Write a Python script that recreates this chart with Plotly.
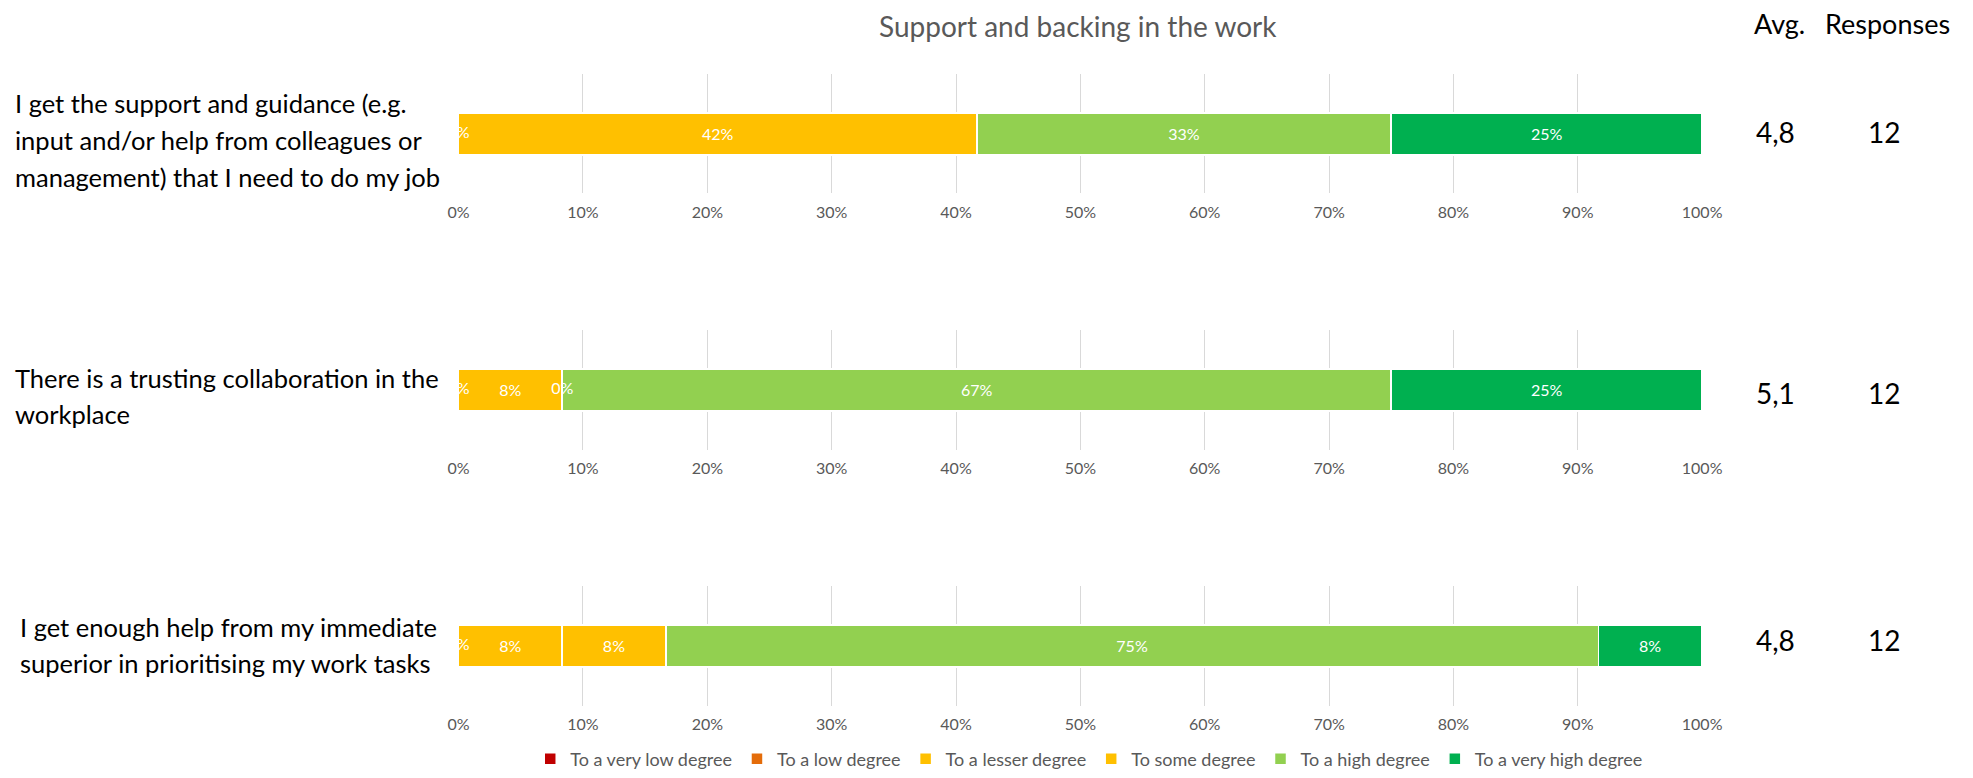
import plotly.graph_objects as go

# ---------------- data ----------------
chart_title = "Support and backing in the work"
questions = [
    "I get the support and guidance (e.g.<br>input and/or help from colleagues or<br>management) that I need to do my job",
    "There is a trusting collaboration in the<br>workplace",
    "I get enough help from my immediate<br>superior in prioritising my work tasks",
]
categories = ["To a very low degree", "To a low degree", "To a lesser degree",
              "To some degree", "To a high degree", "To a very high degree"]
colors = ["#C00000", "#E46C0A", "#FFC000", "#FFC000", "#92D050", "#00B050"]

# percent share per category
q1_values = [0, 0, 0, 41.67, 33.33, 25.0]
q2_values = [0, 0, 8.33, 0, 66.67, 25.0]
q3_values = [0, 0, 8.33, 8.33, 75.0, 8.33]
all_values = [q1_values, q2_values, q3_values]

averages = ["4,8", "5,1", "4,8"]
responses = ["12", "12", "12"]
x_tick_vals = [0, 10, 20, 30, 40, 50, 60, 70, 80, 90, 100]
x_tick_text = [f"{v}%" for v in x_tick_vals]

# ---------------- layout geometry ----------------
W, H = 1973, 778
FONT = "Lato"
x_dom = [455 / W, 1719 / W]
areas_px = [(75, 195), (333, 453), (591, 711)]   # plot areas (top, bottom) in px
label_y_px = [141, 399, 650]                     # centre of each question label
label_x_px = [3, 3, 8]
line_pitch = 37
value_y_px = [133, 396, 645]

fig = go.Figure()

for i, vals in enumerate(all_values):
    ax = "" if i == 0 else str(i + 1)
    xref = "x" + ax
    yref = "y" + ax
    cum = 0
    zero_x = []
    for j, (cat, v) in enumerate(zip(categories, vals)):
        fig.add_trace(go.Bar(
            x=[v], y=[0], orientation="h", name=cat,
            marker=dict(color=colors[j], line=dict(color="white", width=1.5)),
            text=[f"{round(v)}%" if v > 0 else ""],
            textposition="inside", insidetextanchor="middle", textangle=0,
            textfont=dict(color="white", size=16, family=FONT),
            width=0.35, showlegend=(i == 0), legendgroup=cat,
            xaxis=xref, yaxis=yref, hoverinfo="x+name",
        ))
        if v == 0 and round(cum, 2) not in zero_x:
            zero_x.append(round(cum, 2))
        cum += v
    # labels of zero-width segments (clipped by the plot area like the original)
    fig.add_trace(go.Scatter(
        x=zero_x, y=[0] * len(zero_x), mode="text",
        text=["0%"] * len(zero_x),
        textfont=dict(color="white", size=16, family=FONT),
        cliponaxis=True, showlegend=False, hoverinfo="skip",
        xaxis=xref, yaxis=yref,
    ))

    top, bot = areas_px[i]
    y_dom = [1 - bot / H, 1 - top / H]
    xa = dict(domain=x_dom, range=[0, 100], tickvals=x_tick_vals, ticktext=x_tick_text,
              showgrid=True, gridcolor="#D9D9D9", gridwidth=1.3, zeroline=False,
              showline=False, ticks="outside", ticklen=4, tickcolor="rgba(0,0,0,0)",
              tickfont=dict(size=16, color="#595959", family=FONT),
              anchor=yref, fixedrange=True)
    ya = dict(domain=y_dom, range=[-0.5, 0.5], showticklabels=False, showgrid=False,
              zeroline=False, anchor=xref, fixedrange=True)
    fig.layout["xaxis" + ax] = xa
    fig.layout["yaxis" + ax] = ya

    # question label, one annotation per line
    lines = questions[i].split("<br>")
    n = len(lines)
    for k, line in enumerate(lines):
        yc = label_y_px[i] + (k - (n - 1) / 2) * line_pitch
        fig.add_annotation(xref="paper", yref="paper", x=label_x_px[i] / W, y=1 - yc / H,
                           xanchor="left", yanchor="middle", align="left", showarrow=False,
                           borderpad=0, text=line,
                           font=dict(size=25.5, color="#000000", family=FONT))
    # average and responses
    fig.add_annotation(xref="paper", yref="paper", x=1794 / W, y=1 - value_y_px[i] / H,
                       xanchor="center", yanchor="middle", showarrow=False,
                       text=averages[i], font=dict(size=28, color="#000000", family=FONT))
    fig.add_annotation(xref="paper", yref="paper", x=1904 / W, y=1 - value_y_px[i] / H,
                       xanchor="center", yanchor="middle", showarrow=False,
                       text=responses[i], font=dict(size=28, color="#000000", family=FONT))

# headers
fig.add_annotation(xref="paper", yref="paper", x=1798 / W, y=1 - 24 / H,
                   xanchor="center", yanchor="middle", showarrow=False,
                   text="Avg.", font=dict(size=27, color="#000000", family=FONT))
fig.add_annotation(xref="paper", yref="paper", x=1907 / W, y=1 - 24 / H,
                   xanchor="center", yanchor="middle", showarrow=False,
                   text="Responses", font=dict(size=27, color="#000000", family=FONT))
# title
fig.add_annotation(xref="paper", yref="paper", x=1085 / W, y=1 - 26 / H,
                   xanchor="center", yanchor="middle", showarrow=False,
                   text=chart_title,
                   font=dict(size=28, color="#595959", family=FONT))

fig.update_layout(
    width=W, height=H, barmode="stack",
    margin=dict(l=0, r=0, t=0, b=0),
    paper_bgcolor="white", plot_bgcolor="white",
    font=dict(family=FONT, color="#595959"),
    legend=dict(orientation="h", x=1096 / W, xanchor="center", y=1 - 765 / H, yanchor="middle",
                font=dict(size=18, color="#595959", family=FONT), traceorder="normal",
                itemwidth=30, bgcolor="rgba(0,0,0,0)"),
)

fig.write_html(
    "out.html",
    config={"displayModeBar": False},
    post_script="document.body.style.margin='0';document.body.style.padding='0';"
                "document.documentElement.style.overflow='hidden';",
)
